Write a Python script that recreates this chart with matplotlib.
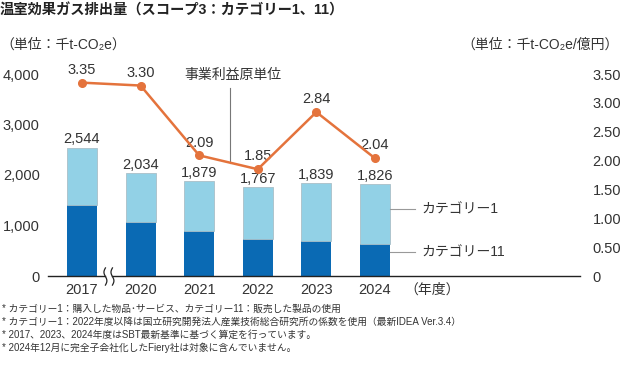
import matplotlib
matplotlib.use("Agg")
import matplotlib.pyplot as plt
import numpy as np

plt.rcParams['font.family'] = ['Liberation Sans', 'Noto Sans CJK JP', 'DejaVu Sans']

years = ["2017", "2020", "2021", "2022", "2023", "2024"]
totals = [2544, 2034, 1879, 1767, 1839, 1826]
cat11 = [1400, 1060, 900, 740, 700, 640]
cat1 = [t - c for t, c in zip(totals, cat11)]
intensity = [3.35, 3.30, 2.09, 1.85, 2.84, 2.04]
left_ticks = [0, 1000, 2000, 3000, 4000]
right_ticks = [0, 0.5, 1.0, 1.5, 2.0, 2.5, 3.0, 3.5]

W, H = 620, 380
fig = plt.figure(figsize=(6.2, 3.8), dpi=100)

def fx(px):
    return px / W

def fy(py):
    return 1 - py / H

ax_l, ax_r = 48, 580
ax_b, ax_t = 276, 74
ax = fig.add_axes([fx(ax_l), fy(ax_b), fx(ax_r - ax_l), fy(ax_t) - fy(ax_b)])
ax.set_ylim(0, 4000)
ax.set_xlim(-0.58, 8.5)

DARK = '#0a6ab4'
LIGHT = '#92d1e6'
ORANGE = '#e4733c'
TXT = '#333333'

x = np.arange(len(years))
bw = 0.51
ax.bar(x, cat11, width=bw, color=DARK, edgecolor='none', zorder=2)
ax.bar(x, cat1, bottom=cat11, width=bw, color=LIGHT, edgecolor='#a9bfc8', linewidth=0.6, zorder=2)

for xi, t in zip(x, totals):
    ax.text(xi, t + 25, f"{t:,}", ha='center', va='bottom', fontsize=10.5, color=TXT)

for s in ['top', 'right', 'left', 'bottom']:
    ax.spines[s].set_visible(False)
ax.tick_params(axis='both', length=0)
ax.set_yticks(left_ticks)
ax.set_yticklabels([f"{v:,}" for v in left_ticks], fontsize=10.5, color=TXT)
ax.tick_params(axis='y', pad=6)
ax.set_xticks(x)
ax.set_xticklabels(years, fontsize=10.5, color=TXT)
ax.tick_params(axis='x', pad=5)

# baseline with break
ax.plot([-0.58, 0.40], [0, 0], color='#222222', lw=1.0, clip_on=False, zorder=3)
ax.plot([0.52, 8.5], [0, 0], color='#222222', lw=1.0, clip_on=False, zorder=3)
yy = np.linspace(-180, 160, 30)
for bx in [0.40, 0.52]:
    xx = bx + 0.025 * np.sin((yy + 180) / 340 * 2 * np.pi)
    ax.plot(xx, yy, color='#222222', lw=0.9, clip_on=False, zorder=3)

ax2 = ax.twinx()
ax2.set_ylim(0, 3.5)
for s in ['top', 'right', 'left', 'bottom']:
    ax2.spines[s].set_visible(False)
ax2.set_yticks(right_ticks)
ax2.set_yticklabels(["0" if v == 0 else f"{v:.2f}" for v in right_ticks], fontsize=10.5, color=TXT)
ax2.tick_params(axis='y', length=0, pad=9)
ax2.plot(x, intensity, color=ORANGE, lw=1.8, marker='o', markersize=5.5, zorder=4)
for xi, v in zip(x, intensity):
    ax2.text(xi, v + 0.1, f"{v:.2f}", ha='center', va='bottom', fontsize=10.5, color=TXT)

# annotation for line
ax2.plot([2.52, 2.52], [1.95, 3.25], color='#777777', lw=0.8)
fig.text(fx(233), fy(75), "事業利益原単位", ha='center', va='center', fontsize=10, color=TXT)

# legend-like labels
for py, lab in [(209, "カテゴリー1"), (252, "カテゴリー11")]:
    fig.add_artist(plt.Line2D([fx(390), fx(415)], [fy(py), fy(py)], color='#999999', lw=0.8))
    fig.text(fx(421), fy(py), lab, ha='left', va='center', fontsize=10, color=TXT)

fig.text(fx(404), fy(290), "（年度）", ha='left', va='center', fontsize=10, color=TXT)

# titles
fig.text(fx(0), fy(10), "温室効果ガス排出量（スコープ3：カテゴリー1、11）", ha='left', va='center',
         fontsize=10.3, fontweight='bold', color='#222222')
fig.text(fx(0), fy(45), "（単位：千t-CO₂e）", ha='left', va='center', fontsize=10, color=TXT)
fig.text(fx(619), fy(45), "（単位：千t-CO₂e/億円）", ha='right', va='center', fontsize=10, color=TXT)

notes = [
    "* カテゴリー1：購入した物品･サービス、カテゴリー11：販売した製品の使用",
    "* カテゴリー1：2022年度以降は国立研究開発法人産業技術総合研究所の係数を使用（最新IDEA Ver.3.4）",
    "* 2017、2023、2024年度はSBT最新基準に基づく算定を行っています。",
    "* 2024年12月に完全子会社化したFiery社は対象に含んでいません。",
]
for i, n in enumerate(notes):
    fig.text(fx(2), fy(309 + i * 13), n, ha='left', va='center', fontsize=7.0, color=TXT)

fig.savefig("out.png", dpi=100)
